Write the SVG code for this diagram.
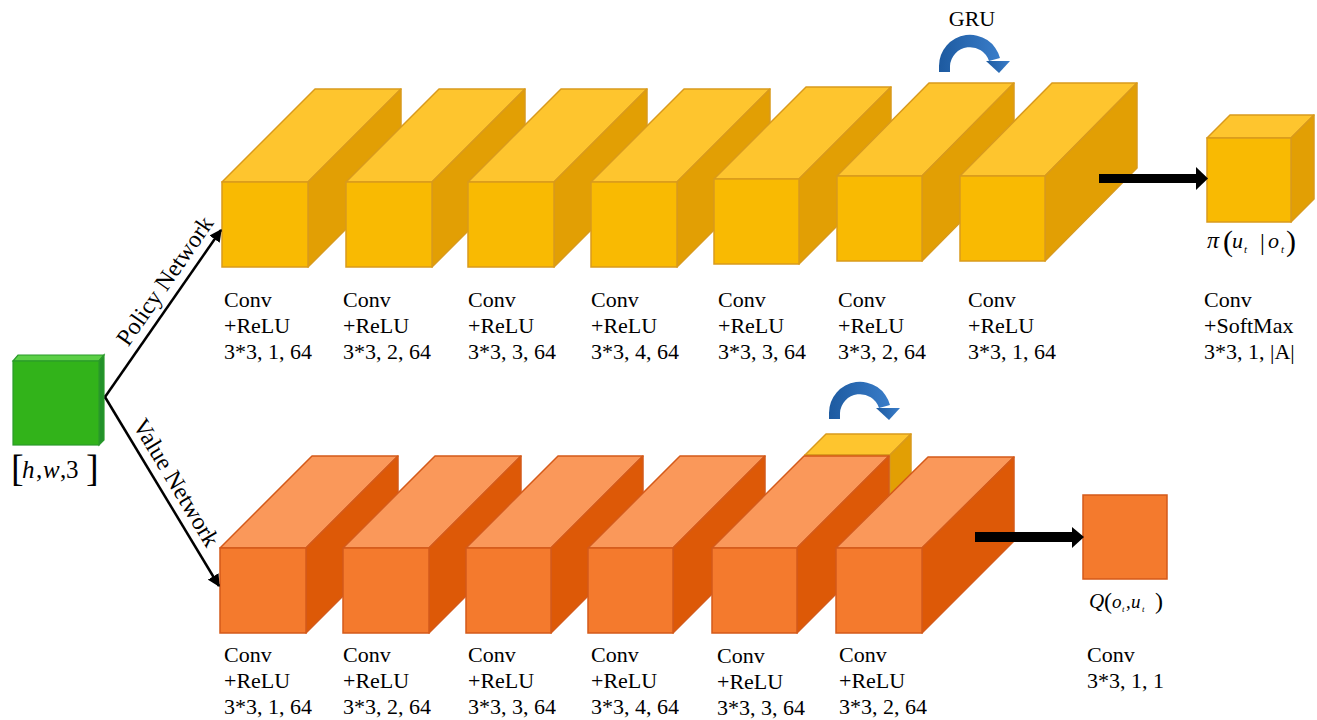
<svg xmlns="http://www.w3.org/2000/svg" width="1317" height="720" viewBox="0 0 1317 720">
<style>
.yf{fill:#F9BA02;stroke:#D99A1C;stroke-width:1.5}
.yt{fill:#FEC52E;stroke:#D99A1C;stroke-width:1.5;stroke-linejoin:round}
.ys{fill:#E29F04;stroke:#D99A1C;stroke-width:1.5;stroke-linejoin:round}
.of{fill:#F47A2D;stroke:#D45A1A;stroke-width:1.5}
.ot{fill:#FA985A;stroke:#D45A1A;stroke-width:1.5;stroke-linejoin:round}
.os{fill:#DD5907;stroke:#D45A1A;stroke-width:1.5;stroke-linejoin:round}
.lbl{font-family:"Liberation Serif","Times New Roman",serif;font-size:22px;fill:#000}
.net{font-family:"Liberation Serif","Times New Roman",serif;font-size:24px;fill:#000}
.math{font-family:"Liberation Serif","Times New Roman",serif;fill:#000}
.it{font-style:italic}
.thin{stroke:#000;stroke-width:2.5;fill:none}
.gru{fill:url(#blue)}
</style>
<defs>
<linearGradient id="blue" x1="0" y1="0" x2="1" y2="0">
<stop offset="0" stop-color="#1D5AA0"/>
<stop offset="1" stop-color="#3A7DC9"/>
</linearGradient>
<marker id="ah" viewBox="0 0 10 10" refX="9" refY="5" markerWidth="5" markerHeight="5" orient="auto" markerUnits="strokeWidth">
<path d="M0,0 L10,5 L0,10 Z" fill="#000"/>
</marker>
<g id="gruArrow">
<path class="gru" d="M939,72 L939,66 A31,31 0 0 1 1000,58 L989,61 A20,20 0 0 0 950,66 L950,72 Z"/>
<polygon class="gru" points="986,61 1010,61 999,73"/>
</g>
</defs>

<!-- input -->
<g id="input">
<polygon points="13,361 18,355 104,355 99,361" fill="#5BCF45" stroke="#2A9A2A" stroke-width="1.2"/>
<polygon points="99,361 104,355 104,440 99,445" fill="#23922A" stroke="#2A9A2A" stroke-width="1.2"/>
<rect x="13" y="361" width="86" height="84" fill="#32B31A" stroke="#2A9A2A" stroke-width="1.2"/>
<text class="math" font-size="25">
<tspan x="11" y="481" font-size="38">[</tspan><tspan x="22" y="478" class="it">h</tspan><tspan x="36" y="478">,</tspan><tspan x="43" y="478" class="it">w</tspan><tspan x="60" y="478">,</tspan><tspan x="66" y="478">3</tspan><tspan x="86" y="481" font-size="38">]</tspan>
</text>
</g>

<!-- policy network -->
<g id="p1"><polygon class="yt" points="222,182 315,89 401,89 308,182"/><polygon class="ys" points="308,182 401,89 401,174 308,267"/><rect class="yf" x="222" y="182" width="86" height="85"/></g>
<g id="p2"><polygon class="yt" points="346,182 439,89 525,89 432,182"/><polygon class="ys" points="432,182 525,89 525,174 432,267"/><rect class="yf" x="346" y="182" width="86" height="85"/></g>
<g id="p3"><polygon class="yt" points="468,182 561,89 647,89 554,182"/><polygon class="ys" points="554,182 647,89 647,174 554,267"/><rect class="yf" x="468" y="182" width="86" height="85"/></g>
<g id="p4"><polygon class="yt" points="591,182 684,89 770,89 677,182"/><polygon class="ys" points="677,182 770,89 770,174 677,267"/><rect class="yf" x="591" y="182" width="86" height="85"/></g>
<g id="p5"><polygon class="yt" points="714,179 806,87 891,87 799,179"/><polygon class="ys" points="799,179 891,87 891,172 799,264"/><rect class="yf" x="714" y="179" width="85" height="85"/></g>
<g id="p6"><polygon class="yt" points="837,176 929,83 1014,83 922,176"/><polygon class="ys" points="922,176 1014,83 1014,168 922,261"/><rect class="yf" x="837" y="176" width="85" height="85"/></g>
<g id="p7"><polygon class="yt" points="960,176 1052,83 1137,83 1045,176"/><polygon class="ys" points="1045,176 1137,83 1137,168 1045,261"/><rect class="yf" x="960" y="176" width="85" height="85"/></g>
<g id="pi-out"><polygon class="yt" points="1207,138 1230,115 1314,115 1291,138"/><polygon class="ys" points="1291,138 1314,115 1314,199 1291,222"/><rect class="yf" x="1207" y="138" width="84" height="84"/>
<text class="math" font-size="22">
<tspan x="1207" y="248" class="it" font-size="24">π</tspan><tspan x="1223" y="251" font-size="30">(</tspan><tspan x="1232" y="248" class="it">u</tspan><tspan x="1244" y="253" font-size="11" class="it">t</tspan><tspan x="1260" y="250" font-size="24">|</tspan><tspan x="1268" y="248" class="it">o</tspan><tspan x="1281" y="253" font-size="11" class="it">t</tspan><tspan x="1286" y="251" font-size="30">)</tspan>
</text>
</g>

<!-- policy labels -->
<g id="policy-labels" class="lbl">
<text x="224" y="307">Conv<tspan x="224" dy="26">+ReLU</tspan><tspan x="224" dy="26">3*3, 1, 64</tspan></text>
<text x="343" y="307">Conv<tspan x="343" dy="26">+ReLU</tspan><tspan x="343" dy="26">3*3, 2, 64</tspan></text>
<text x="468" y="307">Conv<tspan x="468" dy="26">+ReLU</tspan><tspan x="468" dy="26">3*3, 3, 64</tspan></text>
<text x="591" y="307">Conv<tspan x="591" dy="26">+ReLU</tspan><tspan x="591" dy="26">3*3, 4, 64</tspan></text>
<text x="718" y="307">Conv<tspan x="718" dy="26">+ReLU</tspan><tspan x="718" dy="26">3*3, 3, 64</tspan></text>
<text x="838" y="307">Conv<tspan x="838" dy="26">+ReLU</tspan><tspan x="838" dy="26">3*3, 2, 64</tspan></text>
<text x="968" y="307">Conv<tspan x="968" dy="26">+ReLU</tspan><tspan x="968" dy="26">3*3, 1, 64</tspan></text>
<text x="1204" y="307">Conv<tspan x="1204" dy="26">+SoftMax</tspan><tspan x="1204" dy="26">3*3, 1, |A|</tspan></text>
</g>

<!-- value network -->
<g id="v-gru-cube"><polygon class="yt" points="805,455 826,434 911,434 890,455"/><polygon class="ys" points="890,455 911,434 911,519 890,540"/><rect class="yf" x="805" y="455" width="85" height="85"/></g>
<g id="v1"><polygon class="ot" points="220,548 312,456 398,456 306,548"/><polygon class="os" points="306,548 398,456 398,541 306,633"/><rect class="of" x="220" y="548" width="86" height="85"/></g>
<g id="v2"><polygon class="ot" points="343,548 435,456 521,456 429,548"/><polygon class="os" points="429,548 521,456 521,541 429,633"/><rect class="of" x="343" y="548" width="86" height="85"/></g>
<g id="v3"><polygon class="ot" points="466,548 558,456 643,456 551,548"/><polygon class="os" points="551,548 643,456 643,541 551,633"/><rect class="of" x="466" y="548" width="85" height="85"/></g>
<g id="v4"><polygon class="ot" points="588,548 680,456 765,456 673,548"/><polygon class="os" points="673,548 765,456 765,541 673,633"/><rect class="of" x="588" y="548" width="85" height="85"/></g>
<g id="v5"><polygon class="ot" points="712,548 804,456 889,456 797,548"/><polygon class="os" points="797,548 889,456 889,541 797,633"/><rect class="of" x="712" y="548" width="85" height="85"/></g>
<g id="v6"><polygon class="ot" points="836,548 928,457 1014,457 922,548"/><polygon class="os" points="922,548 1014,457 1014,541 922,633"/><rect class="of" x="836" y="548" width="86" height="85"/></g>
<g id="q-out"><rect class="of" x="1083" y="495" width="84" height="84"/>
<text class="math" font-size="19">
<tspan x="1089" y="608" class="it" font-size="21">Q</tspan><tspan x="1104" y="609" font-size="24">(</tspan><tspan x="1112" y="608" class="it">o</tspan><tspan x="1122" y="612" font-size="9" class="it">t</tspan><tspan x="1126" y="608">,</tspan><tspan x="1131" y="608" class="it">u</tspan><tspan x="1142" y="612" font-size="9" class="it">t</tspan><tspan x="1155" y="609" font-size="24">)</tspan>
</text>
</g>

<!-- value labels -->
<g id="value-labels" class="lbl">
<text x="224" y="662">Conv<tspan x="224" dy="26">+ReLU</tspan><tspan x="224" dy="26">3*3, 1, 64</tspan></text>
<text x="343" y="662">Conv<tspan x="343" dy="26">+ReLU</tspan><tspan x="343" dy="26">3*3, 2, 64</tspan></text>
<text x="468" y="662">Conv<tspan x="468" dy="26">+ReLU</tspan><tspan x="468" dy="26">3*3, 3, 64</tspan></text>
<text x="591" y="662">Conv<tspan x="591" dy="26">+ReLU</tspan><tspan x="591" dy="26">3*3, 4, 64</tspan></text>
<text x="717" y="663">Conv<tspan x="717" dy="26">+ReLU</tspan><tspan x="717" dy="26">3*3, 3, 64</tspan></text>
<text x="839" y="662">Conv<tspan x="839" dy="26">+ReLU</tspan><tspan x="839" dy="26">3*3, 2, 64</tspan></text>
<text x="1087" y="662">Conv<tspan x="1087" dy="26">3*3, 1, 1</tspan></text>
</g>

<!-- connectors -->
<g id="connectors">
<line class="thin" x1="105" y1="397" x2="221" y2="230" marker-end="url(#ah)"/>
<line class="thin" x1="105" y1="397" x2="219" y2="586" marker-end="url(#ah)"/>
<g transform="translate(178.7,290.5) rotate(-55.3)"><text class="net" x="0" y="-9" text-anchor="middle">Policy Network</text></g>
<g transform="translate(161.8,491.3) rotate(59)"><text class="net" x="0" y="-9" text-anchor="middle">Value Network</text></g>
<g id="policy-out-arrow">
<rect x="1099" y="174" width="99" height="9" fill="#000"/>
<polygon points="1196,167 1208,178.5 1196,190" fill="#000"/>
</g>
<g id="value-out-arrow">
<rect x="975" y="532" width="99" height="10" fill="#000"/>
<polygon points="1072,527 1084,537 1072,548" fill="#000"/>
</g>
<g id="gru-policy"><use href="#gruArrow"/></g>
<g id="gru-value"><use href="#gruArrow" transform="translate(-110,347)"/></g>
<text class="lbl" x="972" y="26" text-anchor="middle" font-size="21">GRU</text>
</g>
</svg>
